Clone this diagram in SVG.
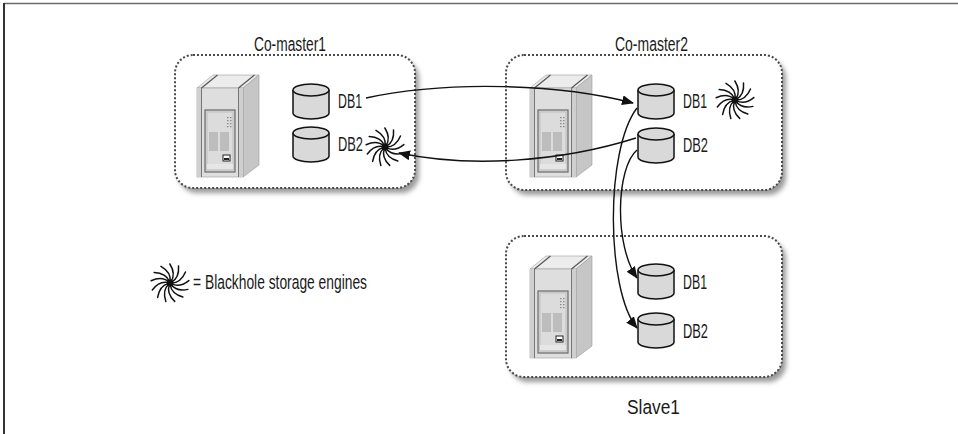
<svg xmlns="http://www.w3.org/2000/svg" xmlns:xlink="http://www.w3.org/1999/xlink" width="958" height="434" viewBox="0 0 958 434">
  <style>
    .lbl { font-family: "Liberation Sans Narrow", "Liberation Sans", sans-serif; font-size: 20.5px; fill: #1a1a1a; }
    .box { fill: #ffffff; stroke: #4a4a4a; stroke-width: 2; stroke-dasharray: 2 2; }
    .shadow { fill: #9a9a9a; filter: url(#blur); }
    .cyl { fill: #d9d9d9; stroke: #111; stroke-width: 1.5; }
    .edge { fill: none; stroke: #111; stroke-width: 1.4; }
    .arm { fill: none; stroke: #111; stroke-width: 1.5; stroke-linecap: round; }
  </style>
  <defs>
    <filter id="blur" x="-10%" y="-10%" width="120%" height="120%">
      <feGaussianBlur stdDeviation="2.5"/>
    </filter>
    <marker id="arrow" viewBox="0 0 12 10" refX="11" refY="5" markerWidth="12" markerHeight="10" markerUnits="userSpaceOnUse" orient="auto">
      <path d="M0,0 L12,5 L0,10 Z" fill="#111"/>
    </marker>
    <!-- database cylinder, 36 x 35 -->
    <g id="cylinder">
      <path class="cyl" d="M0,6 L0,29 A18,6 0 0 0 36,29 L36,6"/>
      <ellipse class="cyl" cx="18" cy="6" rx="18" ry="6"/>
    </g>
    <!-- blackhole swirl: curved arms around a dark core -->
    <path id="arm" class="arm" d="M1.5,0 C7,0 12.5,-4 15.5,-11"/>
    <g id="swirl">
      <use xlink:href="#arm" transform="rotate(0)"/>
      <use xlink:href="#arm" transform="rotate(28)"/>
      <use xlink:href="#arm" transform="rotate(55)"/>
      <use xlink:href="#arm" transform="rotate(83)"/>
      <use xlink:href="#arm" transform="rotate(111)"/>
      <use xlink:href="#arm" transform="rotate(138)"/>
      <use xlink:href="#arm" transform="rotate(166)"/>
      <use xlink:href="#arm" transform="rotate(194)"/>
      <use xlink:href="#arm" transform="rotate(222)"/>
      <use xlink:href="#arm" transform="rotate(249)"/>
      <use xlink:href="#arm" transform="rotate(277)"/>
      <use xlink:href="#arm" transform="rotate(305)"/>
      <use xlink:href="#arm" transform="rotate(332)"/>
      <circle r="3.4" fill="#111"/>
    </g>
    <!-- server cabinet, about 62 x 105 -->
    <g id="server">
      <polygon points="0,16 16,3 62,3 46,16" fill="#ececec" stroke="#9a9a9a" stroke-width="0.6"/>
      <polygon points="46,16 62,3 62,93 46,105" fill="#c6c6c6" stroke="#9a9a9a" stroke-width="0.6"/>
      <rect x="0" y="16" width="46" height="89" fill="#dedede" stroke="#9a9a9a" stroke-width="0.6"/>
      <rect x="0" y="16" width="5" height="89" fill="#cfcfcf"/>
      <rect x="41" y="16" width="5" height="89" fill="#cfcfcf"/>
      <line x1="4.5" y1="16" x2="20.5" y2="3" stroke="#555" stroke-width="1.2"/>
      <line x1="41.5" y1="16" x2="57.5" y2="3" stroke="#555" stroke-width="1.2"/>
      <line x1="4.5" y1="16" x2="4.5" y2="105" stroke="#777" stroke-width="1"/>
      <line x1="41.5" y1="16" x2="41.5" y2="105" stroke="#777" stroke-width="1"/>
      <rect x="8" y="38" width="30" height="62" fill="#d4d4d4" stroke="#6a6a6a" stroke-width="1.2"/>
      <rect x="10" y="40" width="26" height="58" fill="#dcdcdc" stroke="#b0b0b0" stroke-width="0.6"/>
      <rect x="12" y="60" width="9" height="19" fill="#bdbdbd"/>
      <rect x="23" y="60" width="9" height="19" fill="#bdbdbd"/>
      <g fill="#888">
        <rect x="30" y="45" width="1.5" height="1.2"/><rect x="33" y="45" width="1.5" height="1.2"/>
        <rect x="30" y="48" width="1.5" height="1.2"/><rect x="33" y="48" width="1.5" height="1.2"/>
        <rect x="30" y="51" width="1.5" height="1.2"/><rect x="33" y="51" width="1.5" height="1.2"/>
        <rect x="30" y="54" width="1.5" height="1.2"/><rect x="33" y="54" width="1.5" height="1.2"/>
      </g>
      <rect x="26" y="83" width="7" height="6" fill="#ffffff" stroke="#222" stroke-width="1"/>
      <rect x="27" y="86" width="5" height="2" fill="#222"/>
      <rect x="10" y="92" width="26" height="5" fill="#e6e6e6"/>
    </g>
  </defs>

  <!-- page frame -->
  <line x1="4" y1="3.5" x2="958" y2="3.5" stroke="#6a6a6a" stroke-width="1.5"/>
  <line x1="4" y1="3" x2="4" y2="434" stroke="#333" stroke-width="2"/>

  <g id="co-master1">
    <rect class="shadow" x="179" y="60" width="240" height="133" rx="18"/>
    <rect class="box" x="175" y="55" width="240" height="133" rx="18"/>
    <text class="lbl" x="254" y="51" textLength="72" lengthAdjust="spacingAndGlyphs">Co-master1</text>
    <use xlink:href="#server" x="197" y="72"/>
    <use xlink:href="#cylinder" x="293" y="84"/>
    <text class="lbl" x="338" y="108" textLength="24" lengthAdjust="spacingAndGlyphs">DB1</text>
    <use xlink:href="#cylinder" x="293" y="127"/>
    <text class="lbl" x="338" y="151" textLength="25" lengthAdjust="spacingAndGlyphs">DB2</text>
    <use xlink:href="#swirl" x="385" y="147"/>
  </g>

  <g id="co-master2">
    <rect class="shadow" x="510" y="60" width="276" height="135" rx="18"/>
    <rect class="box" x="506" y="55" width="276" height="135" rx="18"/>
    <text class="lbl" x="615" y="51" textLength="73" lengthAdjust="spacingAndGlyphs">Co-master2</text>
    <use xlink:href="#server" x="530" y="72"/>
    <use xlink:href="#cylinder" x="638" y="84"/>
    <text class="lbl" x="683" y="108" textLength="24" lengthAdjust="spacingAndGlyphs">DB1</text>
    <use xlink:href="#cylinder" x="638" y="128"/>
    <text class="lbl" x="683" y="152" textLength="25" lengthAdjust="spacingAndGlyphs">DB2</text>
    <use xlink:href="#swirl" x="735" y="100"/>
  </g>

  <g id="slave1">
    <rect class="shadow" x="510" y="241" width="276" height="141" rx="18"/>
    <rect class="box" x="506" y="236" width="276" height="141" rx="18"/>
    <text class="lbl" x="627" y="414" textLength="53" lengthAdjust="spacingAndGlyphs">Slave1</text>
    <use xlink:href="#server" x="530" y="253"/>
    <use xlink:href="#cylinder" x="638" y="264"/>
    <text class="lbl" x="683" y="289" textLength="24" lengthAdjust="spacingAndGlyphs">DB1</text>
    <use xlink:href="#cylinder" x="638" y="313"/>
    <text class="lbl" x="683" y="338" textLength="25" lengthAdjust="spacingAndGlyphs">DB2</text>
  </g>

  <g id="legend">
    <use xlink:href="#swirl" x="170" y="283"/>
    <text class="lbl" x="193" y="289" textLength="174" lengthAdjust="spacingAndGlyphs">= Blackhole storage engines</text>
  </g>

  <g id="connectors">
    <path class="edge" d="M366,98 C450,80 560,84 633,103" marker-end="url(#arrow)"/>
    <path class="edge" d="M636,138 C560,162 470,168 399,153" marker-end="url(#arrow)"/>
    <path class="edge" d="M637,108 C605,150 606,290 637,328" marker-end="url(#arrow)"/>
    <path class="edge" d="M637,150 C616,168 614,245 637,278" marker-end="url(#arrow)"/>
  </g>
</svg>
